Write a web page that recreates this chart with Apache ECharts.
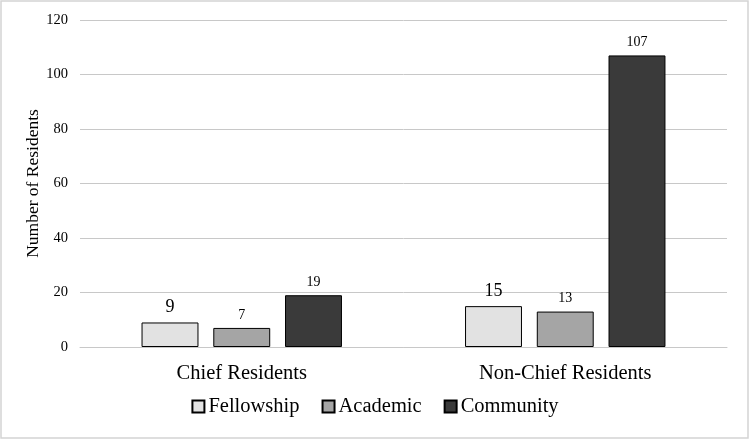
<!DOCTYPE html>
<html><head><meta charset="utf-8">
<script src="https://cdn.jsdelivr.net/npm/echarts@6/dist/echarts.min.js"></script>
<style>html,body{margin:0;padding:0;background:#fff}#c{width:750px;height:440px}</style>
</head><body><div id="c"></div>
<script>
var categories = ['Chief Residents', 'Non-Chief Residents'];
var seriesNames = ['Fellowship', 'Academic', 'Community'];
var fellowship = [9, 15];
var academic = [7, 13];
var community = [19, 107];
var yTicks = [0, 20, 40, 60, 80, 100, 120];

var colors = ['#e2e2e2', '#a5a5a5', '#3a3a3a'];
var labelSizes = [[18, 18], [14, 14], [14, 14]];
var font = '"Liberation Serif", "Times New Roman", serif';
var values = [fellowship, academic, community];

var chart = echarts.init(document.getElementById('c'));
chart.setOption({
  animation: false,
  textStyle: {fontFamily: font},
  graphic: [{type: 'rect', shape: {x: 1, y: 1, width: 747, height: 437}, style: {fill: 'none', stroke: '#d4d4d4', lineWidth: 1.5}, silent: true}],
  grid: {left: 80, right: 23, top: 20, bottom: 93},
  legend: {
    bottom: 18, left: 'center', itemWidth: 12, itemHeight: 12, itemGap: 22,
    icon: 'rect',
    textStyle: {fontFamily: font, fontSize: 20.5, color: '#000', padding: [0, 0, 0, -1]},
    data: seriesNames
  },
  xAxis: {
    type: 'category', data: categories,
    axisLine: {lineStyle: {color: '#c8c8c8', width: 1}},
    axisTick: {show: false},
    axisLabel: {fontFamily: font, fontSize: 20.5, color: '#000', margin: 16}
  },
  yAxis: {
    type: 'value', min: yTicks[0], max: yTicks[yTicks.length - 1], interval: 20,
    name: 'Number of Residents', nameLocation: 'middle', nameGap: 38, nameMoveOverlap: false,
    nameTextStyle: {fontFamily: font, fontSize: 17.5, color: '#000'},
    axisLine: {show: false}, axisTick: {show: false},
    axisLabel: {fontFamily: font, fontSize: 14.5, color: '#000', margin: 12},
    splitLine: {lineStyle: {color: '#c8c8c8', width: 1}}
  },
  series: seriesNames.map(function (n, i) {
    return {
      name: n, type: 'bar', barWidth: '17.6%', barGap: '26%',
      itemStyle: {color: colors[i], borderColor: '#000', borderWidth: 1},
      data: values[i].map(function (v, j) {
        return {value: v, label: {show: true, position: 'top', distance: 6, color: '#000', fontFamily: font, fontSize: labelSizes[i][j]}};
      })
    };
  })
});
</script></body></html>
